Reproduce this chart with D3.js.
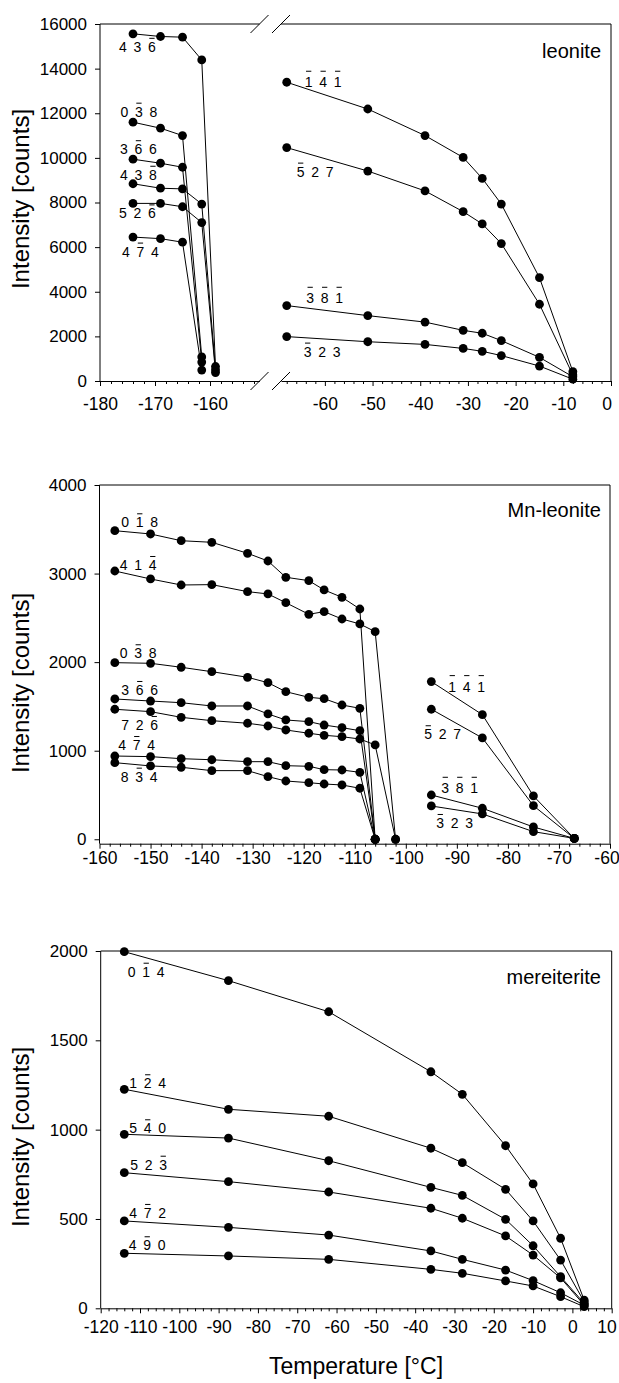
<!DOCTYPE html>
<html>
<head>
<meta charset="utf-8">
<script src="https://cdn.jsdelivr.net/npm/d3@7"></script>
<style>
  body { margin: 0; background: #fff; }
  svg { display: block; font-family: "Liberation Sans", Arial, sans-serif; }
</style>
</head>
<body>
<div id="chart"></div>
<script>
/* CONSTANTS AND GLOBALS */
const width = 619,
  height = 1383,
  radius = 4.4,
  labelSize = 14,
  digitStep = 14.5;

let svg;

/* DATA */
// leonite, left of the axis break
const leoniteColdTemps = [-174, -169, -165, -161.5, -159];
const leoniteColdLabels = ["4 3 -6", "0 -3 8", "3 -6 6", "4 3 -8", "5 2 -6", "4 -7 4"];
const leoniteColdCounts = [
  [15560, 15440, 15410, 14390, 650],
  [11600, 11330, 11000, 1080, null],
  [9940, 9760, 9580, 850, null],
  [8840, 8640, 8610, 7930, 500],
  [7960, 7960, 7810, 7100, 380],
  [6450, 6380, 6220, 490, null]
];
// leonite, right of the axis break
const leoniteWarmTemps = [-68, -51, -39, -31, -27, -23, -15, -8];
const leoniteWarmLabels = ["-1 -4 -1", "-5 2 7", "-3 -8 -1", "-3 2 3"];
const leoniteWarmCounts = [
  [13390, 12190, 11000, 10020, 9080, 7930, 4630, 420],
  [10460, 9410, 8520, 7590, 7040, 6160, 3440, 270],
  [3380, 2930, 2640, 2270, 2140, 1810, 1060, 190],
  [1990, 1760, 1640, 1460, 1330, 1140, 670, 80]
];
const leoniteYTicks = [0, 2000, 4000, 6000, 8000, 10000, 12000, 14000, 16000];
const leoniteXTicksCold = [-180, -170, -160];
const leoniteXTicksWarm = [-60, -50, -40, -30, -20, -10, 0];

// Mn-leonite
const mnColdTemps = [-157, -150, -144, -138, -131, -127, -123.5, -119, -116, -112.5, -109, -106, -102];
const mnColdLabels = ["0 -1 8", "4 1 -4", "0 -3 8", "3 -6 6", "7 2 -6", "4 -7 4", "8 -3 4"];
const mnColdCounts = [
  [3484, 3447, 3371, 3353, 3229, 3142, 2958, 2920, 2815, 2732, 2600, 0, null],
  [3029, 2939, 2871, 2875, 2796, 2770, 2671, 2540, 2570, 2487, 2431, 2344, 0],
  [1994, 1987, 1942, 1892, 1829, 1768, 1666, 1603, 1587, 1516, 1479, 0, null],
  [1584, 1561, 1542, 1505, 1505, 1415, 1347, 1328, 1290, 1260, 1226, 0, null],
  [1468, 1441, 1377, 1339, 1310, 1279, 1234, 1197, 1174, 1158, 1132, 1065, 0],
  [940, 933, 910, 898, 876, 876, 831, 824, 786, 782, 756, 0, null],
  [865, 828, 813, 775, 775, 707, 658, 639, 624, 613, 576, 0, null]
];
const mnWarmTemps = [-95, -85, -75, -67];
const mnWarmLabels = ["-1 -4 -1", "-5 2 7", "-3 -8 -1", "-3 2 3"];
const mnWarmCounts = [
  [1780, 1407, 489, 10],
  [1468, 1144, 379, 10],
  [500, 350, 139, 10],
  [376, 286, 86, 10]
];
const mnYTicks = [0, 1000, 2000, 3000, 4000];
const mnXTicks = [-160, -150, -140, -130, -120, -110, -100, -90, -80, -70, -60];

// mereiterite
const merTemps = [-114, -87.5, -62, -36, -28, -17, -10, -3, 3];
const merLabels = ["0 -1 4", "1 -2 4", "5 -4 0", "5 2 -3", "4 -7 2", "4 -9 0"];
const merCounts = [
  [1996, 1834, 1660, 1324, 1198, 910, 696, 392, 46],
  [1226, 1114, 1075, 896, 815, 666, 489, 270, 37],
  [974, 953, 826, 677, 632, 498, 350, 177, 28],
  [759, 709, 651, 560, 504, 405, 298, 170, 18],
  [489, 453, 410, 321, 274, 214, 155, 87, 18],
  [308, 293, 274, 218, 196, 153, 125, 65, 9]
];
const merYTicks = [0, 500, 1000, 1500, 2000];
const merXTicks = [-120, -110, -100, -90, -80, -70, -60, -50, -40, -30, -20, -10, 0, 10];

/* LABEL PLACEMENT (pixel offsets from the first point of each series) */
const leoniteColdOffsets = [[-14, 18], [-12.5, -5.5], [-13, -5], [-13, -4], [-14, 15], [-11, 19.5]];
const leoniteWarmOffsets = [[18, 5], [10, 29], [19.5, -2.3], [17, 20]];
const mnColdOffsets = [[6.5, -3.4], [5, -1], [5, -4.4], [6.5, -4], [6.5, 20.7], [3.5, -6], [6, 19]];
const mnWarmOffsets = [[17, 10], [-7, 30], [10, -1.7], [5, 22]];
const merOffsets = [[3.5, 25], [5, -1], [5, -1], [6, -3], [5, -3], [4.5, -3]];

/* PANEL LAYOUT */
const panels = [
  {
    name: "leonite", top: 24, bottom: 381, left: 100, right: 611,
    yDomain: [0, 16000], yTicks: leoniteYTicks, nameY: 58, titleY: 199, xLabelPad: 12,
    broken: true,
    segments: [
      { domain: [-180, -151], range: [100, 259.5], ticks: leoniteXTicksCold, minor: d3.range(-178, -151, 2),
        temps: leoniteColdTemps, labels: leoniteColdLabels, counts: leoniteColdCounts, offsets: leoniteColdOffsets },
      { domain: [-69.2, 0], range: [281, 611], ticks: leoniteXTicksWarm, minor: d3.range(-68, 0, 2),
        temps: leoniteWarmTemps, labels: leoniteWarmLabels, counts: leoniteWarmCounts, offsets: leoniteWarmOffsets }
    ]
  },
  {
    name: "Mn-leonite", top: 485, bottom: 843.7, left: 99.5, right: 610,
    yDomain: [-50, 4000], yTicks: mnYTicks, nameY: 516.7, titleY: 683, xLabelPad: 3,
    segments: [
      { domain: [-160, -60], range: [99.5, 610], ticks: mnXTicks, minor: d3.range(-158, -60, 2),
        temps: mnColdTemps, labels: mnColdLabels, counts: mnColdCounts, offsets: mnColdOffsets },
      { domain: [-160, -60], range: [99.5, 610], ticks: [], minor: [],
        temps: mnWarmTemps, labels: mnWarmLabels, counts: mnWarmCounts, offsets: mnWarmOffsets }
    ]
  },
  {
    name: "mereiterite", top: 951, bottom: 1308.3, left: 100.7, right: 611.7,
    yDomain: [0, 2000], yTicks: merYTicks, nameY: 984, titleY: 1137, xLabelPad: 7.5,
    segments: [
      { domain: [-120, 10], range: [100.7, 611.7], ticks: merXTicks, minor: d3.range(-118, 10, 2),
        temps: merTemps, labels: merLabels, counts: merCounts, offsets: merOffsets }
    ]
  }
];

init();

/* INITIALIZING FUNCTION */
function init() {
  svg = d3.select("#chart")
    .append("svg")
    .attr("width", width)
    .attr("height", height);

  panels.forEach(p => drawPanel(p));

  // shared x axis title
  svg.append("text")
    .attr("x", 356)
    .attr("y", 1374)
    .attr("text-anchor", "middle")
    .attr("font-size", 23)
    .text("Temperature [°C]");
}

/* DRAW ONE PANEL */
function drawPanel(p) {
  const g = svg.append("g").attr("class", "panel");

  const yScale = d3.scaleLinear()
    .domain(p.yDomain)
    .range([p.bottom, p.top]);

  // + FRAME (left, right, top)
  g.append("line")
    .attr("x1", p.left).attr("x2", p.left)
    .attr("y1", p.top).attr("y2", p.bottom)
    .attr("stroke", "#000");
  g.append("line")
    .attr("x1", p.right).attr("x2", p.right)
    .attr("y1", p.top).attr("y2", p.bottom)
    .attr("stroke", "#000");

  if (p.broken) {
    const gaps = p.segments.map(s => s.range);
    gaps.forEach(r => {
      g.append("line")
        .attr("x1", r[0]).attr("x2", r[1])
        .attr("y1", p.top).attr("y2", p.top)
        .attr("stroke", "#000");
    });
    // break marks, two slashes at top and bottom
    const cuts = [gaps[0][1], gaps[1][0]];
    [p.top, p.bottom].forEach(yy => {
      cuts.forEach(cx => {
        g.append("line")
          .attr("x1", cx - 9).attr("y1", yy + 9)
          .attr("x2", cx + 9).attr("y2", yy - 9)
          .attr("stroke", "#000");
      });
    });
  } else {
    g.append("line")
      .attr("x1", p.left).attr("x2", p.right)
      .attr("y1", p.top).attr("y2", p.top)
      .attr("stroke", "#000");
  }

  // + Y AXIS
  const yAxis = d3.axisLeft(yScale)
    .tickValues(p.yTicks)
    .tickFormat(d => String(d))
    .tickSize(5)
    .tickSizeOuter(0)
    .tickPadding(8);
  g.append("g")
    .attr("class", "yAxis")
    .attr("transform", `translate(${p.left}, 0)`)
    .call(yAxis)
    .call(a => a.select(".domain").remove())
    .call(a => a.selectAll("text").attr("font-size", 17).attr("font-family", null).attr("fill", "#000"));

  // y axis title
  g.append("text")
    .attr("transform", `translate(${28.5}, ${p.titleY}) rotate(-90)`)
    .attr("text-anchor", "middle")
    .attr("font-size", 24)
    .text("Intensity [counts]");

  // panel name
  g.append("text")
    .attr("x", 601)
    .attr("y", p.nameY)
    .attr("text-anchor", "end")
    .attr("font-size", 20)
    .text(p.name);

  // + X AXES AND SERIES FOR EACH SEGMENT
  p.segments.forEach(s => {
    const xScale = d3.scaleLinear().domain(s.domain).range(s.range);

    if (s.ticks.length) {
      const xAxis = d3.axisBottom(xScale)
        .tickValues(s.ticks)
        .tickFormat(d => String(d))
        .tickSize(5)
        .tickSizeOuter(0)
        .tickPadding(p.xLabelPad);
      g.append("g")
        .attr("class", "xAxis")
        .attr("transform", `translate(0, ${p.bottom})`)
        .call(xAxis)
        .call(a => a.selectAll("text").attr("font-size", 17.5).attr("font-family", null).attr("fill", "#000"))
        // keep the last label inside the page
        .call(a => a.selectAll("text")
          .filter(d => xScale(d) > width - 14)
          .attr("dx", d => (width - 2 - 10.5) - xScale(d)));

      const minorAxis = d3.axisBottom(xScale)
        .tickValues(s.minor.filter(v => !s.ticks.includes(v)))
        .tickSize(3)
        .tickSizeOuter(0)
        .tickFormat("");
      g.append("g")
        .attr("class", "xMinor")
        .attr("transform", `translate(0, ${p.bottom})`)
        .call(minorAxis)
        .call(a => a.select(".domain").remove());
    }

    const lineGen = d3.line()
      .defined(d => d[1] != null)
      .x(d => xScale(d[0]))
      .y(d => yScale(d[1]));

    s.counts.forEach((row, i) => {
      const pts = s.temps.map((t, j) => [t, row[j]]);

      g.append("path")
        .datum(pts)
        .attr("fill", "none")
        .attr("stroke", "#000")
        .attr("stroke-width", 1)
        .attr("d", lineGen);

      g.selectAll(null)
        .data(pts.filter(d => d[1] != null))
        .join("circle")
        .attr("cx", d => xScale(d[0]))
        .attr("cy", d => yScale(d[1]))
        .attr("r", radius)
        .attr("fill", "#000");

      // Miller index label, negative index drawn with a bar
      const off = s.offsets[i];
      const lx = xScale(s.temps[0]) + off[0];
      const ly = yScale(row[0]) + off[1];
      drawIndex(g, s.labels[i], lx, ly);
    });
  });
}

function drawIndex(g, label, x, y) {
  const parts = label.split(" ");
  const negCount = parts.filter(d => d.startsWith("-")).length;
  const barY = negCount > 1 ? -16 : -13.5;
  const lg = g.append("g").attr("transform", `translate(${x}, ${y})`);
  parts.forEach((d, i) => {
    const neg = d.startsWith("-");
    lg.append("text")
      .attr("x", i * digitStep)
      .attr("y", 0)
      .attr("font-size", labelSize)
      .text(neg ? d.slice(1) : d);
    if (neg) {
      lg.append("line")
        .attr("x1", i * digitStep + 1.3)
        .attr("x2", i * digitStep + 6.6)
        .attr("y1", barY).attr("y2", barY)
        .attr("stroke", "#000")
        .attr("stroke-width", 1);
    }
  });
}
</script>
</body>
</html>
